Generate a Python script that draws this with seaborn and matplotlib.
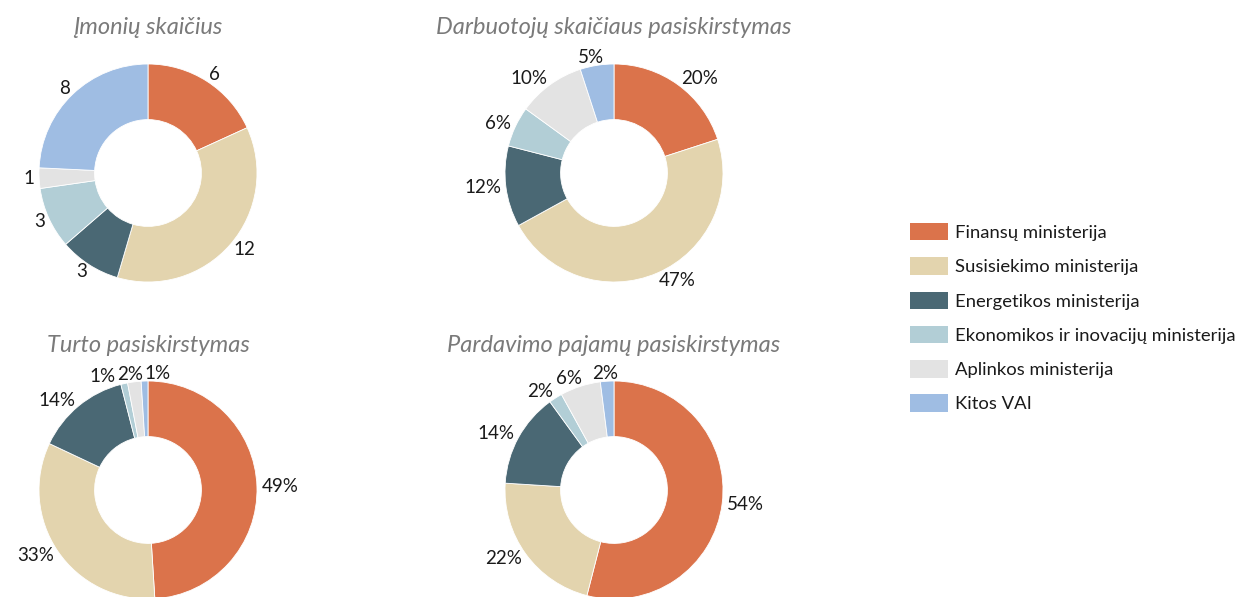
import matplotlib
matplotlib.use("Agg")
import matplotlib.pyplot as plt
import numpy as np
import seaborn as sns
from matplotlib.patches import Patch

sns.set_theme(style="white")
plt.rcParams['font.family'] = ['Lato', 'DejaVu Sans']

categories = ["Finansų ministerija", "Susisiekimo ministerija", "Energetikos ministerija",
              "Ekonomikos ir inovacijų ministerija", "Aplinkos ministerija", "Kitos VAI"]
colors = ["#DB734B", "#E3D4AE", "#4A6874", "#B2CED6", "#E3E3E3", "#9FBDE3"]

titles = ["Įmonių skaičius", "Darbuotojų skaičiaus pasiskirstymas",
          "Turto pasiskirstymas", "Pardavimo pajamų pasiskirstymas"]
imoniu = [6, 12, 3, 3, 1, 8]
darbuotoju = [20, 47, 12, 6, 10, 5]
turto = [49, 33, 14, 1, 2, 1]
pardavimo = [54, 22, 14, 2, 6, 2]
series = [imoniu, darbuotoju, turto, pardavimo]
label_fmt = ["{}", "{}%", "{}%", "{}%"]

W, H = 1249, 597
fig = plt.figure(figsize=(W / 100, H / 100), dpi=100)
renderer = fig.canvas.get_renderer()

centers = [(148, 173), (614, 173), (148, 490), (614, 490)]
R = 109  # px per data unit (outer radius = 1)
lim = 1.4
S = R * 2 * lim
title_y = [28, 28, 346, 346]
LABEL_FS = 13.5


def place_labels(ax, wedges, labels, k=1.04, pad=1.5):
    items = []
    for w, lab in zip(wedges, labels):
        ang = np.deg2rad((w.theta1 + w.theta2) / 2)
        dx, dy = np.cos(ang), np.sin(ang)
        t = ax.text(0, 0, lab, ha="center", va="center", fontsize=LABEL_FS,
                    color="#1a1a1a")
        bb = t.get_window_extent(renderer)
        bw, bh = bb.width / R, bb.height / R
        x = dx * k + np.clip(dx * 2.5, -1, 1) * bw / 2
        y = dy * k + dy * 0.4 * bh / 2
        items.append([t, x, y, bw, bh])
    p = pad / R
    for _ in range(100):
        moved = False
        for i in range(len(items)):
            for j in range(i + 1, len(items)):
                a, b = items[i], items[j]
                ox = (a[3] + b[3]) / 2 + p - abs(a[1] - b[1])
                oy = (a[4] + b[4]) / 2 * 0.8 - abs(a[2] - b[2])
                if ox > 1e-6 and oy > 0:
                    s = 1 if a[1] >= b[1] else -1
                    a[1] += s * ox / 2
                    b[1] -= s * ox / 2
                    moved = True
        if not moved:
            break
    for t, x, y, _, _ in items:
        t.set_position((x, y))


for i, (vals, (cx, cy)) in enumerate(zip(series, centers)):
    ax = fig.add_axes([(cx - S / 2) / W, (H - cy - S / 2) / H, S / W, S / H])
    wedges, _ = ax.pie(vals, colors=colors, startangle=90, counterclock=False,
                       radius=1,
                       wedgeprops=dict(width=0.51, edgecolor="white", linewidth=0.6))
    ax.set_xlim(-lim, lim)
    ax.set_ylim(-lim, lim)
    ax.set_aspect("equal")
    ax.axis("off")
    place_labels(ax, wedges, [label_fmt[i].format(v) for v in vals])
    fig.text(cx / W, 1 - title_y[i] / H, titles[i], ha="center", va="center",
             fontsize=17, style="italic", color="#7a7a7a")

handles = [Patch(facecolor=c, edgecolor="none") for c in colors]
fig.legend(handles, categories, loc="upper left", bbox_to_anchor=(910 / W, 1 - 223 / H),
           frameon=False, fontsize=13.3, handlelength=2.05, handleheight=1.08,
           handletextpad=0.38, labelspacing=0.88, borderpad=0, borderaxespad=0,
           labelcolor="#1a1a1a")

fig.savefig("out.png", dpi=100)
